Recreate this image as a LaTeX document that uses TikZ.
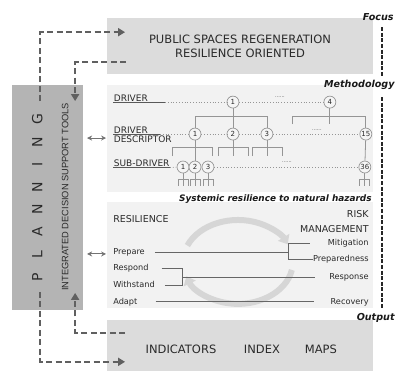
\documentclass[tikz,border=0pt]{standalone}
\usepackage{fontspec}
\setmainfont{DejaVu Sans}
\newfontfamily\arialfont{Liberation Sans}
\usetikzlibrary{arrows.meta}

\definecolor{boxgrey}{HTML}{DCDCDC}
\definecolor{paleback}{HTML}{F2F2F2}
\definecolor{plangrey}{HTML}{B4B4B4}
\definecolor{dashgrey}{HTML}{606060}
\definecolor{treegrey}{HTML}{959595}
\definecolor{txtgrey}{HTML}{2A2A2A}
\definecolor{ringgrey}{HTML}{D6D6D6}

\begin{document}
\begin{tikzpicture}[x=1pt,y=-1pt,
    panel/.style={anchor=north west, inner sep=0pt, outer sep=0pt},
    flow/.style={dashgrey, line width=1.9pt, dash pattern=on 6pt off 3.5pt, -{Triangle[length=7pt,width=8pt]}},
    divider/.style={black!85, line width=1.6pt, dash pattern=on 4pt off 1.6pt},
    twoway/.style={black!55, line width=1pt, {Stealth[length=5pt,width=5pt]}-{Stealth[length=5pt,width=5pt]}},
    tag/.style={anchor=east, inner sep=0pt, text=black!90, font=\bfseries\itshape\fontsize{9.6}{11}\selectfont},
    lab/.style={inner sep=0.8pt, outer sep=0pt, text=txtgrey, font=\fontsize{9}{10}\selectfont},
    uline/.style={black!65, line width=0.9pt},
    rowdots/.style={treegrey, line width=0.8pt, dotted},
    gap/.style={inner sep=0pt, text=black!70, font=\fontsize{5}{5}\selectfont},
    num/.style={circle, draw=treegrey, fill=white!96!black, line width=0.7pt, inner sep=0pt,
        minimum size=12pt, text=txtgrey, font=\fontsize{7}{7}\selectfont},
    branchline/.style={treegrey, line width=0.8pt},
    rlab/.style={inner sep=0pt, text=txtgrey, font=\fontsize{8.2}{9}\selectfont},
    rline/.style={black!60, line width=0.8pt},
    ringarrow/.style={ringgrey, line width=6pt, -{Triangle[length=8pt,width=13pt]}}]

    \filldraw[white] (0,0) rectangle (397,371);
    \useasboundingbox (0,0) rectangle (397,371);

    % boxes
    \node[panel, fill=boxgrey, minimum width=266pt, minimum height=56pt, align=center,
        text=txtgrey, font=\fontsize{11.5}{14}\selectfont] (focus) at (107,18)
        {PUBLIC SPACES REGENERATION\\RESILIENCE ORIENTED};
    \node[panel, fill=paleback, minimum width=266pt, minimum height=107pt] (method) at (107,85) {};
    \node[panel, fill=paleback, minimum width=266pt, minimum height=106pt] (resil) at (107,202) {};
    \node[panel, fill=boxgrey, minimum width=266pt, minimum height=51pt] (output) at (107,320) {};
    \node[panel, fill=plangrey, minimum width=71pt, minimum height=225pt] (plan) at (12,85) {};

    % planning column
    \foreach \ch [count=\i] in {P,L,A,N,N,I,N,G}
        \node[rotate=90, text=txtgrey, font=\fontsize{14}{14}\selectfont] (pl-\i) at (37,277-22.5*\i+22.5) {\ch};
    \node[rotate=90, text=txtgrey, font=\arialfont\fontsize{9.3}{10}\selectfont] (tools) at (65,197)
        {INTEGRATED DECISION SUPPORT TOOLS};

    % side labels
    \node[tag] (focus-lbl) at (394,17) {Focus};
    \node[tag] (method-lbl) at (395,85) {Methodology};
    \node[tag, font=\bfseries\itshape\fontsize{8.9}{10}\selectfont] (resil-lbl) at (372,199)
        {Systemic resilience to natural hazards};
    \node[tag] (output-lbl) at (395,318) {Output};

    \coordinate (div-a) at (382,27);
    \coordinate (div-b) at (382,76);
    \coordinate (div-c) at (382,97);
    \coordinate (div-d) at (382,308);
    \draw[divider] (div-a) -- (div-b);
    \draw[divider] (div-c) -- (div-d);

    % dashed loops planning <-> focus / output
    \coordinate (plan-up) at (40,101);
    \coordinate (focus-in) at (125,32);
    \coordinate (focus-out) at (126,62);
    \coordinate (plan-in) at (75,101);
    \coordinate (plan-down) at (40,292);
    \coordinate (output-in) at (125,362);
    \coordinate (output-out) at (125,333);
    \coordinate (plan-back) at (75,293);
    \draw[flow] (plan-up) |- (focus-in);
    \draw[flow] (focus-out) -| (plan-in);
    \draw[flow] (plan-down) |- (output-in);
    \draw[flow] (output-out) -| (plan-back);

    \coordinate (ha1) at (87,138);
    \coordinate (hb1) at (106,138);
    \coordinate (ha2) at (87,254);
    \coordinate (hb2) at (106,254);
    \draw[twoway] (ha1) -- (hb1);
    \draw[twoway] (ha2) -- (hb2);

    % methodology tree
    \node[lab, anchor=south west] (drv) at (113,102) {DRIVER};
    \node[lab, anchor=south west] (desc1) at (113,134) {DRIVER};
    \node[lab, anchor=north west] (desc2) at (113,134.5) {DESCRIPTOR};
    \node[lab, anchor=south west] (sub) at (113,167.5) {SUB-DRIVER};

    \node[num] (d1) at (233,102) {1};
    \node[num] (d4) at (330,102) {4};
    \node[num] (c1) at (195,134) {1};
    \node[num] (c2) at (233,134) {2};
    \node[num] (c3) at (267,134) {3};
    \node[num] (c15) at (366,134) {15};
    \node[num] (s1) at (183,167) {1};
    \node[num] (s2) at (195,167) {2};
    \node[num] (s3) at (208,167) {3};
    \node[num] (s36) at (365,167) {36};

    \draw[uline] (drv.south west) -- (drv.south west -| 165,0) coordinate (drv-u);
    \draw[uline] (desc1.south west) -- (desc1.south west -| 160,0) coordinate (desc-u);
    \draw[uline] (sub.south west) -- (sub.south west -| 170,0) coordinate (sub-u);
    \draw[rowdots] (drv-u) -- (d1) -- (d4);
    \draw[rowdots] (desc-u) -- (c1) -- (c2) -- (c3) -- (c15);
    \draw[rowdots] (sub-u) -- (s1);
    \draw[rowdots] (s3) -- (s36);
    \node[gap] (gap-a) at (280,97) {......};
    \node[gap] (gap-b) at (317,130) {......};
    \node[gap] (gap-c) at (287,162) {......};

    \coordinate (kA) at (267,116);
    \draw[branchline] (d1) -- (c2);
    \draw[branchline] (c1) |- (kA) -- (c3);
    \coordinate (kB0) at (330,124);
    \coordinate (kB1) at (292,124);
    \coordinate (kB2) at (366,116);
    \draw[branchline] (d4) -- (kB0);
    \draw[branchline] (kB1) |- (kB2) -- (c15);
    \draw[branchline] (c1) -- (s2);
    \draw[branchline] (c15) -- (s36);
    \foreach \l/\r in {172/212, 218/248, 252/282}
        \draw[branchline] (\l,156) -- ++(0,-9) -| (\r,156);
    \draw[branchline] (c2) -- (233,156);
    \draw[branchline] (c3) -- (267,156);
    \foreach \n in {s1,s2,s3,s36}{
        \draw[branchline] (\n) -- ++(0,12) coordinate (\n-f);
        \draw[branchline] ([xshift=-5pt]\n-f) -- ([xshift=5pt]\n-f);
        \foreach \dx in {-5,0,5}
            \draw[branchline] ([xshift=\dx pt]\n-f) -- ++(0,7);
    }

    % resilience / risk management
    \draw[ringarrow] (238,262) ++(203:55 and 42) arc[start angle=203, end angle=335, x radius=55, y radius=42];
    \draw[ringarrow] (238,262) ++(11:55 and 42) arc[start angle=11, end angle=160, x radius=55, y radius=42];

    \node[rlab, anchor=west, font=\fontsize{9.5}{11}\selectfont] (resilience) at (113,219) {RESILIENCE};
    \node[rlab, anchor=east, align=right, font=\fontsize{9.5}{15}\selectfont] (risk) at (369,221.5) {RISK\\MANAGEMENT};
    \node[rlab, anchor=west] (prepare) at (113,252) {Prepare};
    \node[rlab, anchor=west] (respond) at (113,268) {Respond};
    \node[rlab, anchor=west] (withstand) at (113,285) {Withstand};
    \node[rlab, anchor=west] (adapt) at (113,302) {Adapt};
    \node[rlab, anchor=east] (mitig) at (369,243) {Mitigation};
    \node[rlab, anchor=east] (prepd) at (369,259) {Preparedness};
    \node[rlab, anchor=east] (response) at (369,277) {Response};
    \node[rlab, anchor=east] (recovery) at (369,302) {Recovery};

    \coordinate (pf) at (288,252);
    \coordinate (rf) at (182,277);
    \draw[rline] ([xshift=10pt]prepare.east) -- (pf);
    \draw[rline] ([xshift=-18pt]mitig.west) -| (pf) |- (prepd.west);
    \draw[rline] ([xshift=13pt]respond.east) -| (rf);
    \draw[rline] ([xshift=10pt]withstand.east) -| (rf);
    \draw[rline] (rf) -- ([xshift=-14pt]response.west);
    \draw[rline] ([xshift=18pt]adapt.east) -- ([xshift=-16pt]recovery.west);

    % output
    \node[text=txtgrey, font=\fontsize{11.5}{14}\selectfont] (ind) at (181,349) {INDICATORS};
    \node[text=txtgrey, font=\fontsize{11.5}{14}\selectfont] (index) at (262,349) {INDEX};
    \node[text=txtgrey, font=\fontsize{11.5}{14}\selectfont] (maps) at (321,349) {MAPS};

\end{tikzpicture}
\end{document}
